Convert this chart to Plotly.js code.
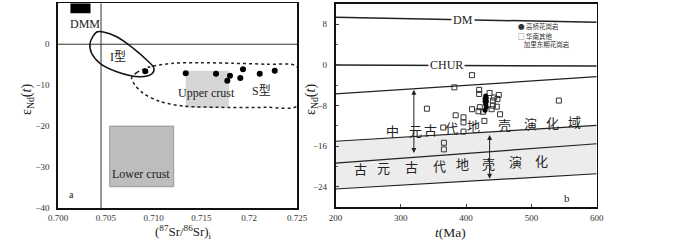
<!DOCTYPE html>
<html>
<head>
<meta charset="utf-8">
<script src="https://cdn.plot.ly/plotly-3.0.1.min.js"></script>
<style>html,body{margin:0;padding:0;background:#fff;}#chart{width:700px;height:240px;}</style>
</head>
<body>
<div id="chart"></div>
<script>
// ---------- Panel a data ----------
const srRatio = [0.70913, 0.71336, 0.71653, 0.71799, 0.71771, 0.71907, 0.71935, 0.7211, 0.72267];
const epsNdA  = [-6.6, -7.1, -7.2, -7.7, -8.9, -8.25, -6.1, -7.2, -6.5];
// I-type field outline
const iTypeX = [0.70405, 0.70474, 0.70614, 0.70788, 0.70928, 0.71004, 0.7098, 0.70858, 0.70614, 0.70439, 0.70352, 0.70335, 0.70405];
const iTypeY = [2.99, 2.99, 1.84, -0.99, -3.85, -5.88, -7.27, -7.93, -6.7, -4.66, -2.2, 0.23, 2.99];
// S-type field outline
const sTypeX = [0.7077, 0.70823, 0.70962, 0.71206, 0.71485, 0.71834, 0.72183, 0.725, 0.725, 0.72183, 0.7166, 0.71311, 0.71067, 0.70892, 0.70805, 0.7077];
const sTypeY = [-8.3, -6.95, -5.49, -4.66, -4.51, -4.66, -4.9, -5.49, -15.1, -15.4, -15.4, -15.1, -14.0, -12.0, -9.96, -8.3];
// reservoir boxes [x0, x1, y0, y1]
const dmmBox = [0.7013, 0.7034, 7.6, 10];
const upperCrustBox = [0.71336, 0.71786, -6.5, -15.5];
const lowerCrustBox = [0.70541, 0.7121, -20, -34.8];
const bulkEarthSr = 0.7045;
const xTicksA = [0.700, 0.705, 0.710, 0.715, 0.720, 0.725];
const xTickTextA = ['0.700', '0.705', '0.710', '0.715', '0.72', '0.725'];
const yTicksA = [10, 0, -10, -20, -30, -40];

// ---------- Panel b data ----------
const ageStudy = [429, 430, 431, 430, 429, 431, 430, 429, 431];
const epsStudy = [-6.6, -7.1, -7.2, -7.7, -8.9, -8.25, -6.1, -7.2, -6.5];
const ageOther = [409, 382, 340, 384, 396, 396, 365, 396, 409, 420, 420, 436, 421, 419, 426, 450, 448, 441, 441, 447, 439, 452, 366, 366, 542, 428, 443];
const epsOther = [-2.0, -4.4, -8.6, -9.9, -10.3, -11.3, -12.3, -13.1, -8.7, -4.9, -5.7, -5.5, -8.3, -9.1, -9.2, -5.9, -6.7, -7.0, -8.0, -8.2, -8.7, -9.7, -15.3, -16.6, -7.0, -11.0, -6.4];
const lineAge = [200, 600];
const dmLine = [9.4, 8.4];
const churLine = [0.0, -0.2];
const mesoTop = [-5.7, -2.3];
const mesoBottom = [-15.0, -11.9];
const paleoMid = [-19.3, -15.5];
const paleoBottom = [-24.4, -21.4];
const xTicksB = [200, 300, 400, 500, 600];
const yTicksB = [8, 0, -8, -16, -24];
const mesoLabel = ['中', '元', '古', '代', '地', '壳', '演', '化', '域'];
const mesoLabelAge = [287, 322, 345, 378, 411, 459, 498, 533, 566];
const mesoLabelEps = [-12.9, -12.9, -12.6, -12.3, -12.0, -11.7, -11.5, -11.3, -11.1];
const paleoLabel = ['古', '元', '古', '代', '地', '壳', '演', '化'];
const paleoLabelAge = [238, 274, 317, 360, 394, 435, 476, 516];
const paleoLabelEps = [-20.3, -20.2, -20.0, -19.8, -19.4, -19.4, -19.0, -18.7];

const serif = 'Liberation Serif, Times New Roman, serif';
const cjk = 'Noto Sans CJK SC, sans-serif';

const traces = [
  {x: iTypeX, y: iTypeY, xaxis: 'x', yaxis: 'y', mode: 'lines', line: {color: '#111', width: 1.5, shape: 'spline', smoothing: 1}, hoverinfo: 'skip', showlegend: false},
  {x: sTypeX, y: sTypeY, xaxis: 'x', yaxis: 'y', mode: 'lines', line: {color: '#222', width: 1.5, dash: 'dot', shape: 'spline', smoothing: 0.8}, hoverinfo: 'skip', showlegend: false},
  {x: srRatio, y: epsNdA, xaxis: 'x', yaxis: 'y', mode: 'markers', marker: {color: '#000', size: 6, symbol: 'circle'}, showlegend: false, name: '高桥花岗岩'},
  // panel b evolution lines
  {x: lineAge, y: mesoBottom, xaxis: 'x2', yaxis: 'y2', mode: 'lines', line: {color: '#222', width: 1.2}, showlegend: false, hoverinfo: 'skip'},
  {x: lineAge, y: paleoBottom, xaxis: 'x2', yaxis: 'y2', mode: 'lines', fill: 'tonexty', fillcolor: '#ececec', line: {color: '#222', width: 1.2}, showlegend: false, hoverinfo: 'skip'},
  {x: lineAge, y: paleoMid, xaxis: 'x2', yaxis: 'y2', mode: 'lines', line: {color: '#222', width: 1.2}, showlegend: false, hoverinfo: 'skip'},
  {x: lineAge, y: mesoTop, xaxis: 'x2', yaxis: 'y2', mode: 'lines', line: {color: '#222', width: 1.2}, showlegend: false, hoverinfo: 'skip'},
  {x: lineAge, y: dmLine, xaxis: 'x2', yaxis: 'y2', mode: 'lines', line: {color: '#222', width: 1.5}, showlegend: false, hoverinfo: 'skip'},
  {x: lineAge, y: churLine, xaxis: 'x2', yaxis: 'y2', mode: 'lines', line: {color: '#222', width: 1.5}, showlegend: false, hoverinfo: 'skip'},
  {x: ageOther, y: epsOther, xaxis: 'x2', yaxis: 'y2', mode: 'markers', marker: {symbol: 'square-open', size: 5, color: '#333', line: {width: 1}}, showlegend: false, name: '华南其他加里东期花岗岩'},
  {x: ageStudy, y: epsStudy, xaxis: 'x2', yaxis: 'y2', mode: 'markers', marker: {symbol: 'circle', size: 5, color: '#000'}, showlegend: false, name: '高桥花岗岩'}
];

function rect(b, xr, yr, color, line) {
  return {type: 'rect', xref: xr, yref: yr, x0: b[0], x1: b[1], y0: b[2], y1: b[3], fillcolor: color, line: {width: line ? 1 : 0, color: '#999'}, layer: 'below'};
}

const shapes = [
  rect(dmmBox, 'x', 'y', '#000', false),
  rect(upperCrustBox, 'x', 'y', '#d6d6d6', false),
  rect(lowerCrustBox, 'x', 'y', '#bdbdbd', true),
  {type: 'line', xref: 'x', yref: 'y', x0: bulkEarthSr, x1: bulkEarthSr, y0: -40, y1: 10, line: {color: '#333', width: 1}, layer: 'below'},
  {type: 'line', xref: 'x', yref: 'y', x0: 0.700, x1: 0.725, y0: 0, y1: 0, line: {color: '#333', width: 1}, layer: 'below'}
];

const txt = (x, y, text, xr, yr, size, font, extra) => Object.assign({x: x, y: y, xref: xr, yref: yr, text: text, showarrow: false, xanchor: 'center', yanchor: 'middle', font: {family: font || serif, size: size || 12, color: '#222'}}, extra || {});

const annotations = [
  txt(0.7028, 4.9, 'DMM', 'x', 'y', 12),
  txt(0.7063, -3.1, 'I型', 'x', 'y', 12, 'Liberation Serif, Noto Sans CJK SC'),
  txt(0.7213, -11.3, 'S型', 'x', 'y', 12, 'Liberation Serif, Noto Sans CJK SC'),
  txt(0.71555, -12.0, 'Upper crust', 'x', 'y', 12),
  txt(0.70868, -31.7, 'Lower crust', 'x', 'y', 12),
  txt(0.70136, -36.7, 'a', 'x', 'y', 10),
  txt(396, 8.85, 'DM', 'x2', 'y2', 12, serif, {bgcolor: '#fff', borderpad: 1}),
  txt(370, 0.0, 'CHUR', 'x2', 'y2', 12, serif, {bgcolor: '#fff', borderpad: 1}),
  txt(554, -26.2, 'b', 'x2', 'y2', 11),
  // axis titles
  txt(183 / 700, 1 - 232 / 240, '(<sup>87</sup>Sr/<sup>86</sup>Sr)<sub>i</sub>', 'paper', 'paper', 13),
  txt(450 / 700, 1 - 232 / 240, '<i>t</i>(Ma)', 'paper', 'paper', 13.5),
  txt(27 / 700, 1 - 100 / 240, 'ε<sub>Nd</sub>(<i>t</i>)', 'paper', 'paper', 14, serif, {textangle: -90}),
  txt(311 / 700, 1 - 100 / 240, 'ε<sub>Nd</sub>(<i>t</i>)', 'paper', 'paper', 14, serif, {textangle: -90}),
  // legend
  {xref: 'paper', yref: 'paper', x: 516 / 700, y: 1 - 26 / 240, xanchor: 'left', yanchor: 'middle', showarrow: false, align: 'left', text: '● 高桥花岗岩', font: {family: cjk, size: 6.5, color: '#333'}},
  {xref: 'paper', yref: 'paper', x: 516 / 700, y: 1 - 40 / 240, xanchor: 'left', yanchor: 'middle', showarrow: false, align: 'left', text: '□ 华南其他<br>    加里东期花岗岩', font: {family: cjk, size: 6.5, color: '#333'}},
  // arrows
  {xref: 'x2', yref: 'y2', axref: 'x2', ayref: 'y2', x: 320, y: -17.3, ax: 320, ay: -4.6, text: '', showarrow: true, arrowhead: 2, arrowside: 'end+start', arrowsize: 1, arrowwidth: 1, arrowcolor: '#222'},
  {xref: 'x2', yref: 'y2', axref: 'x2', ayref: 'y2', x: 436, y: -22.4, ax: 436, ay: -13.5, text: '', showarrow: true, arrowhead: 2, arrowside: 'end+start', arrowsize: 1, arrowwidth: 1, arrowcolor: '#222'}
];
mesoLabel.forEach((c, i) => annotations.push(txt(mesoLabelAge[i], mesoLabelEps[i], c, 'x2', 'y2', 13, cjk)));
paleoLabel.forEach((c, i) => annotations.push(txt(paleoLabelAge[i], paleoLabelEps[i], c, 'x2', 'y2', 13, cjk)));

const axisCommon = {showline: true, mirror: true, linecolor: '#111', linewidth: 1.6, showgrid: false, zeroline: false, tickfont: {family: serif, size: 9, color: '#333'}};

const layout = {
  width: 700, height: 240,
  margin: {l: 0, r: 0, t: 0, b: 0},
  paper_bgcolor: '#fff', plot_bgcolor: '#fff',
  showlegend: false,
  xaxis: Object.assign({}, axisCommon, {domain: [58 / 700, 297 / 700], range: [0.700, 0.725], tickvals: xTicksA, ticktext: xTickTextA, ticks: '', ticklabelstandoff: 1, anchor: 'y'}),
  yaxis: Object.assign({}, axisCommon, {domain: [1 - 208 / 240, 1 - 3.3 / 240], range: [-40, 10], tickvals: yTicksA, ticks: '', ticklabelstandoff: 5, anchor: 'x'}),
  xaxis2: Object.assign({}, axisCommon, {domain: [335.5 / 700, 596.7 / 700], range: [200, 600], tickvals: xTicksB, ticks: 'inside', ticklen: 3, tickcolor: '#444', ticklabelstandoff: 1, anchor: 'y2'}),
  yaxis2: Object.assign({}, axisCommon, {domain: [1 - 207.3 / 240, 1 - 4 / 240], range: [-28, 12], tickvals: yTicksB, ticks: 'inside', ticklen: 3, tickcolor: '#444', ticklabelstandoff: 5,
    minor: {dtick: 4, ticks: 'inside', ticklen: 2, tickcolor: '#666'}, anchor: 'x2'}),
  shapes: shapes,
  annotations: annotations
};

Plotly.newPlot('chart', traces, layout, {staticPlot: true, displayModeBar: false});
</script>
</body>
</html>
